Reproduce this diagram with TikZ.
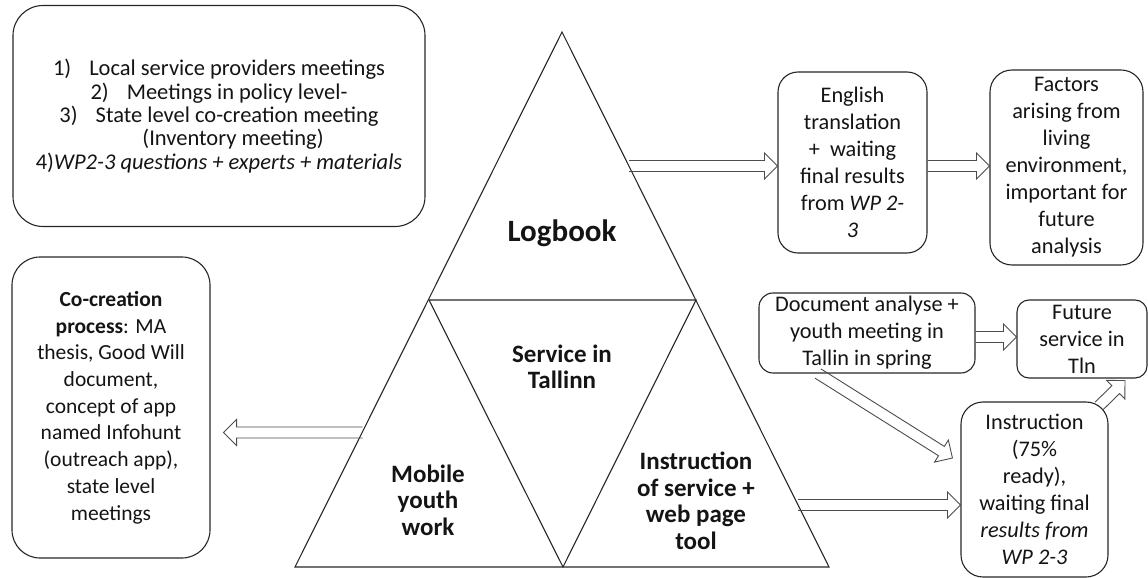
\documentclass[tikz,border=0pt]{standalone}
\usepackage{fontspec}
\setmainfont{Carlito}
\usetikzlibrary{calc}
\newcommand\basw{5.5bp}
\newcommand\bahw{13bp}
\newcommand\bahl{13bp}
\newcommand\blockarrow[2]{%
  \coordinate (ba-h) at ($(#2)!\bahl!(#1)$);
  \draw[arrowline] ($(#1)!\basw!90:(#2)$) -- ($(ba-h)!\basw!90:(#2)$) -- ($(ba-h)!\bahw!90:(#2)$) -- (#2) -- ($(ba-h)!\bahw!-90:(#2)$) -- ($(ba-h)!\basw!-90:(#2)$) -- ($(#1)!\basw!-90:(#2)$);}
\tikzset{
  box/.style={draw=black!85, line width=1.1bp, rounded corners=20bp, align=center, inner sep=0pt, text=black!92,
    font=\fontsize{22.3bp}{27bp}\selectfont},
  tri/.style={draw=black!85, line width=1.1bp, line join=miter},
  lbl/.style={align=center, inner sep=0pt, text=black!92, font=\bfseries\fontsize{25bp}{26.5bp}\selectfont},
  arrowline/.style={draw=black!70, line width=0.9bp, line join=miter}
}
\begin{document}
\begin{tikzpicture}[x=1bp, y=-1bp]
\useasboundingbox (0,0) rectangle (1148,578);
% triangle
\coordinate (apex) at (562,32);
\coordinate (ml) at (429,300);
\coordinate (mr) at (696,300);
\coordinate (bl) at (295,567);
\coordinate (bm) at (563,567);
\coordinate (br) at (829,567);
\draw[tri] (apex) -- (bl) -- (br) -- cycle;
\draw[tri] (ml) -- (mr) -- (bm) -- cycle;
\node[lbl, font=\bfseries\fontsize{31bp}{32bp}\selectfont] (logbook) at (562,233) {Logbook};
\node[lbl] (service) at (562,367) {Service in\\Tallinn};
\node[lbl] (mobile) at (428,500) {Mobile\\youth\\work};
\node[lbl] (instr) at (696,501) {Instruction\\of service +\\web page\\tool};
% boxes
\node[box, rounded corners=30bp, minimum width=412bp, minimum height=221bp,
      font=\fontsize{22.5bp}{23.4bp}\selectfont] (tl) at (219,116)
  {1)\hspace{0.8em}Local service providers meetings\\
   2)\hspace{0.8em}Meetings in policy level-\\
   3)\hspace{0.8em}State level co-creation meeting\\
   \hspace*{28bp}(Inventory meeting)\\
   4)\textit{WP2-3 questions + experts + materials}};
\node[box, rounded corners=28bp, minimum width=198bp, minimum height=301bp,
      font=\fontsize{21.5bp}{26.7bp}\selectfont] (co) at (111,407.5)
  {\textbf{Co-creation}\\\textbf{process}: MA\\thesis, Good Will\\document,\\concept of app\\named Infohunt\\(outreach app),\\state level\\meetings};
\node[box, minimum width=149bp, minimum height=181bp] (eng) at (852.5,162.5)
  {English\\translation\\+\ \ waiting\\final results\\from \textit{WP 2-}\\\textit{3}};
\node[box, rounded corners=22bp, minimum width=153bp, minimum height=195bp] (fac) at (1066.5,167.5)
  {Factors\\arising from\\living\\environment,\\important for\\future\\analysis};
\node[box, rounded corners=14bp, minimum width=216bp, minimum height=80bp] (doc) at (867,333)
  {Document analyse +\\youth meeting in\\Tallin in spring};
\node[box, rounded corners=12bp, minimum width=130bp, minimum height=78bp] (fut) at (1082,339)
  {Future\\service in\\Tln};
\node[box, rounded corners=22bp, minimum width=147bp, minimum height=175bp] (ins) at (1034.5,489.5)
  {Instruction\\(75\%\\ready),\\waiting final\\\textit{results from}\\\textit{WP 2-3}};
% arrows
\coordinate (a1s) at (629,166);
\coordinate (a1e) at (a1s -| eng.west);
\blockarrow{a1s}{a1e}
\coordinate (a2s) at ($(eng.east)+(0,3.5)$);
\coordinate (a2e) at (a2s -| fac.west);
\blockarrow{a2s}{a2e}
\coordinate (a3s) at (362.5,432.5);
\coordinate (a3e) at ($(a3s -| co.east)+(13,0)$);
\blockarrow{a3s}{a3e}
\coordinate (a4s) at (798,505);
\coordinate (a4e) at (a4s -| ins.west);
\blockarrow{a4s}{a4e}
\coordinate (a5s) at ($(doc.east)+(0,4)$);
\coordinate (a5e) at (a5s -| fut.west);
\blockarrow{a5s}{a5e}
\coordinate (a6s) at ($(doc.south)+(-49,0)$);
\coordinate (a6e) at ($(ins.west)+(-8,-31.5)$);
\blockarrow{a6s}{a6e}
\coordinate (a7s) at (1099,406);
\coordinate (a7e) at ($(fut.south)+(43,2)$);
\blockarrow{a7s}{a7e}
\end{tikzpicture}
\end{document}
